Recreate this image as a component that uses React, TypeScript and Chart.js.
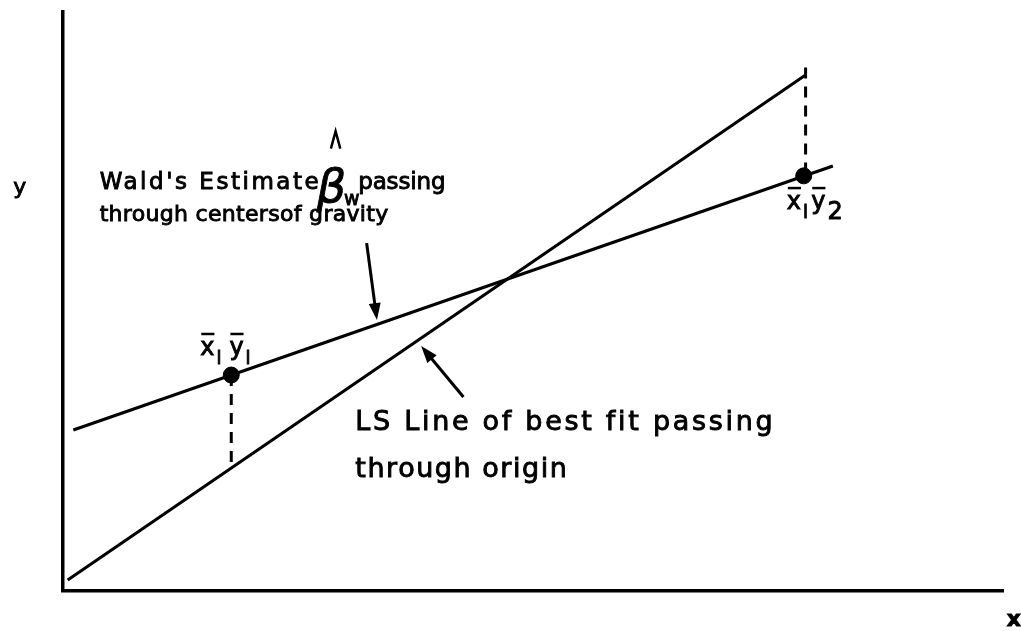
import React, { useEffect, useRef } from "react";
import { Chart, registerables } from "chart.js";

Chart.register(...registerables);

// Axis ranges (arbitrary units, no ticks shown)
const xRange = [0, 100];
const yRange = [0, 100];

// Least-squares line of best fit through the origin
const lsLineX = [0.5, 79.0];
const lsLineY = [1.9, 89.1];

// Wald's line joining the two centres of gravity
const waldLineX = [1.1, 81.9];
const waldLineY = [27.8, 73.4];

// Centres of gravity (x̄1, ȳ1) and (x̄1, ȳ2)
const centreX = [17.9, 78.8];
const centreY = [37.3, 71.7];

// Dashed verticals dropped from each centre to the LS line
const drop1X = [17.9, 17.9];
const drop1Y = [37.3, 21.2];
const drop2X = [79.0, 79.0];
const drop2Y = [90.4, 71.7];

const pts = (xs: number[], ys: number[]) => xs.map((x, i) => ({ x, y: ys[i] }));

const FONT = '"DejaVu Sans", sans-serif';

const annotate = {
  id: "annotate",
  afterDatasetsDraw(chart: any) {
    const { ctx, scales } = chart;
    const X = (v: number) => scales.x.getPixelForValue(v);
    const Y = (v: number) => scales.y.getPixelForValue(v);
    ctx.save();
    ctx.fillStyle = "#000";
    ctx.strokeStyle = "#000";
    ctx.textBaseline = "middle";
    ctx.textAlign = "left";

    // lettering with a slightly heavier stroke
    const text = (s: string, x: number, y: number, size: number, spacing = 0, style = "") => {
      ctx.font = `${style} ${size}px ${FONT}`;
      (ctx as any).letterSpacing = `${spacing}px`;
      ctx.lineWidth = 0.9;
      ctx.fillText(s, X(x), Y(y));
      ctx.strokeText(s, X(x), Y(y));
      (ctx as any).letterSpacing = "0px";
    };
    // lettering spread to run from x0 to x1
    const spread = (s: string, x0: number, x1: number, y: number, size: number) => {
      ctx.font = `${size}px ${FONT}`;
      (ctx as any).letterSpacing = "0px";
      const w = ctx.measureText(s).width;
      const gap = (X(x1) - X(x0) - w) / Math.max(1, s.length - 1);
      text(s, x0, y, size, gap);
    };

    // Upper caption
    spread("Wald's Estimate", 3.9, 27.2, 70.5, 23);
    spread("passing", 31.4, 40.7, 70.5, 23);
    spread("through centersof gravity", 3.9, 34.6, 64.9, 22);

    // β̂w
    text("β", 27.0, 69.3, 46, 0, "italic");
    text("w", 29.9, 67.5, 19, 0);
    ctx.lineWidth = 2.5;
    ctx.beginPath();
    ctx.moveTo(X(28.5), Y(76.4));
    ctx.lineTo(X(29.0), Y(79.4));
    ctx.lineTo(X(29.5), Y(76.4));
    ctx.stroke();

    // Lower caption
    spread("LS Line of best fit passing", 31.1, 75.5, 29.1, 27);
    spread("through origin", 31.1, 53.6, 20.9, 27);

    // Axis letters
    text("y", -5.3, 69.6, 22, 0);
    text("x", 100.4, -5.1, 22, 0, "bold");

    // x̄ ȳ labels with subscripts
    const barred = (s: string, sub: string, x: number, y: number, subSize: number) => {
      text(s, x, y, 24);
      ctx.font = `24px ${FONT}`;
      const w = ctx.measureText(s).width;
      ctx.lineWidth = 2.5;
      ctx.beginPath();
      ctx.moveTo(X(x) + 1, Y(y) - 15);
      ctx.lineTo(X(x) + w, Y(y) - 15);
      ctx.stroke();
      text(sub, scales.x.getValueForPixel(X(x) + w + 2), scales.y.getValueForPixel(Y(y) + 10), subSize);
    };
    barred("x", "l", 14.6, 41.8, 18);
    barred("y", "l", 17.7, 41.8, 18);
    barred("x", "l", 77.0, 67.0, 18);
    barred("y", "2", 79.6, 67.0, 24);

    // Arrows pointing at the two lines
    const arrow = (x0: number, y0: number, x1: number, y1: number) => {
      const ax = X(x0), ay = Y(y0), bx = X(x1), by = Y(y1);
      const ang = Math.atan2(by - ay, bx - ax);
      ctx.lineWidth = 3;
      ctx.beginPath();
      ctx.moveTo(ax, ay);
      ctx.lineTo(bx - 8 * Math.cos(ang), by - 8 * Math.sin(ang));
      ctx.stroke();
      const L = 17, W = 6;
      ctx.beginPath();
      ctx.moveTo(bx, by);
      ctx.lineTo(bx - L * Math.cos(ang) + W * Math.sin(ang), by - L * Math.sin(ang) - W * Math.cos(ang));
      ctx.lineTo(bx - L * Math.cos(ang) - W * Math.sin(ang), by - L * Math.sin(ang) + W * Math.cos(ang));
      ctx.closePath();
      ctx.fill();
    };
    arrow(32.3, 60.1, 33.4, 46.8);
    arrow(42.6, 33.5, 38.1, 42.3);

    ctx.restore();
  },
};

export default function App() {
  const ref = useRef<HTMLCanvasElement>(null);

  useEffect(() => {
    if (!ref.current) return;
    const solid = { borderColor: "#000", borderWidth: 3, pointRadius: 0, showLine: true, fill: false };
    const dashed = { ...solid, borderWidth: 3, borderDash: [11, 8] };
    const chart = new Chart(ref.current, {
      type: "scatter",
      data: {
        datasets: [
          { label: "LS line", data: pts(lsLineX, lsLineY), ...solid },
          { label: "Wald line", data: pts(waldLineX, waldLineY), ...solid },
          { label: "drop 1", data: pts(drop1X, drop1Y), ...dashed },
          { label: "drop 2", data: pts(drop2X, drop2Y), ...dashed },
          {
            label: "centres",
            data: pts(centreX, centreY),
            showLine: false,
            pointRadius: 8,
            pointBackgroundColor: "#000",
            pointBorderColor: "#000",
          },
        ],
      },
      options: {
        animation: false,
        responsive: false,
        layout: { padding: { left: 63, top: 12, right: 18, bottom: 40 } },
        plugins: { legend: { display: false }, tooltip: { enabled: false } },
        scales: {
          x: {
            type: "linear",
            min: xRange[0],
            max: xRange[1],
            grid: { display: false, drawTicks: false },
            ticks: { display: false },
            border: { color: "#000", width: 3.5 },
          },
          y: {
            type: "linear",
            min: yRange[0],
            max: yRange[1],
            grid: { display: false, drawTicks: false },
            ticks: { display: false },
            border: { color: "#000", width: 3.5 },
          },
        },
      },
      plugins: [annotate],
    });
    return () => chart.destroy();
  }, []);

  return (
    <div style={{ position: "absolute", left: 0, top: 0, width: 1021, height: 631, background: "#fff" }}>
      <canvas ref={ref} width={1021} height={631} />
    </div>
  );
}
